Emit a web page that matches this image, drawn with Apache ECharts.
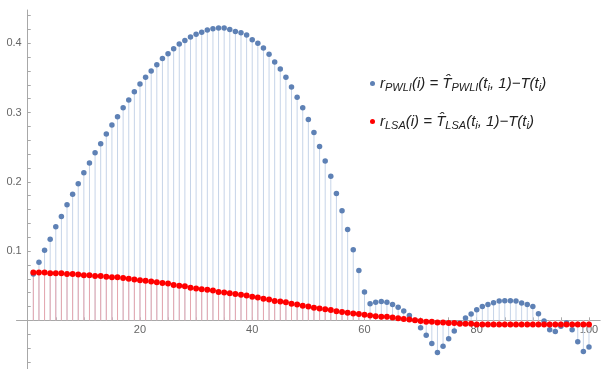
<!DOCTYPE html>
<html>
<head>
<meta charset="utf-8">
<script src="https://cdn.jsdelivr.net/npm/echarts@6/dist/echarts.min.js"></script>
<style>
  html, body { margin: 0; padding: 0; background: #fff; }
  #chart { width: 605px; height: 369px; }
</style>
</head>
<body>
<div id="chart"></div>
<script>
// residuals r(i), i = 1..100
var pwli = [
  0.067, 0.084, 0.101, 0.117, 0.135, 0.150, 0.167, 0.182, 0.197, 0.213,
  0.227, 0.242, 0.255, 0.269, 0.282, 0.294, 0.307, 0.318, 0.330, 0.341,
  0.351, 0.360, 0.369, 0.378, 0.385, 0.392, 0.399, 0.404, 0.409, 0.413,
  0.416, 0.419, 0.421, 0.422, 0.422, 0.420, 0.417, 0.415, 0.412, 0.405,
  0.400, 0.393, 0.384, 0.373, 0.363, 0.351, 0.337, 0.322, 0.307, 0.290,
  0.271, 0.251, 0.230, 0.208, 0.183, 0.158, 0.131, 0.102, 0.072, 0.041,
  0.024, 0.026, 0.027, 0.026, 0.023, 0.019, 0.0135, 0.007, 0.000, -0.0106,
  -0.0216, -0.0335, -0.0465, -0.0375, -0.0265, -0.0154, -0.004, 0.0034, 0.0092, 0.0154,
  0.020, 0.023, 0.0255, 0.028, 0.0284, 0.0284, 0.028, 0.025, 0.023, 0.020,
  0.0096, -0.001, -0.0135, -0.016, -0.0087, -0.0034, -0.0135, -0.031, -0.045, -0.0385
];
var lsa = [
  0.069, 0.069, 0.069, 0.068, 0.068, 0.068, 0.067, 0.067, 0.066, 0.065,
  0.065, 0.064, 0.064, 0.063, 0.062, 0.062, 0.061, 0.060, 0.059, 0.058,
  0.057, 0.056, 0.055, 0.054, 0.053, 0.051, 0.050, 0.049, 0.047, 0.046,
  0.045, 0.044, 0.043, 0.041, 0.040, 0.039, 0.038, 0.037, 0.036, 0.034,
  0.033, 0.031, 0.030, 0.028, 0.027, 0.026, 0.024, 0.023, 0.021, 0.020,
  0.018, 0.017, 0.016, 0.015, 0.013, 0.012, 0.011, 0.010, 0.009, 0.008,
  0.007, 0.006, 0.005, 0.005, 0.004, 0.003, 0.002, 0.001, 0.000, -0.001,
  -0.002, -0.002, -0.003, -0.003, -0.004, -0.004, -0.005, -0.005, -0.005, -0.006,
  -0.006, -0.006, -0.006, -0.006, -0.006, -0.006, -0.006, -0.006, -0.006, -0.006,
  -0.006, -0.006, -0.006, -0.006, -0.006, -0.006, -0.006, -0.006, -0.006, -0.006
];
var xLabels = [20, 40, 60, 80, 100];
var xTicks = [5, 10, 15, 20, 25, 30, 35, 40, 45, 50, 55, 60, 65, 70, 75, 80, 85, 90, 95, 100];
var yLabels = [0.1, 0.2, 0.3, 0.4];
var yTicks = [-0.06, -0.04, -0.02, 0.02, 0.04, 0.06, 0.08, 0.1, 0.12, 0.14, 0.16, 0.18, 0.2,
  0.22, 0.24, 0.26, 0.28, 0.3, 0.32, 0.34, 0.36, 0.38, 0.4, 0.42, 0.44];

var X_MIN = -2, X_MAX = 102, Y_MIN = -0.07, Y_MAX = 0.448;

function pairs(arr) {
  return arr.map(function (v, k) { return [k + 1, v]; });
}

var myChart = echarts.init(document.getElementById('chart'));

var axisGray = '#a8a8a8';
var labelStyle = { color: '#666', fontSize: 11, fontFamily: 'Liberation Sans' };

var option = {
  animation: false,
  grid: { left: 16.5, right: 4.8, top: 10, bottom: 0.2, outerBoundsMode: 'none', containLabel: false },
  xAxis: {
    type: 'value', min: X_MIN, max: X_MAX,
    axisLine: { onZero: false, lineStyle: { color: axisGray, width: 1 } },
    axisTick: { inside: true, length: 3, customValues: xTicks, lineStyle: { color: axisGray } },
    axisLabel: Object.assign({ customValues: xLabels, margin: 4 }, labelStyle),
    splitLine: { show: false }
  },
  yAxis: {
    type: 'value', min: Y_MIN, max: Y_MAX,
    axisLine: { show: true, onZero: false, lineStyle: { color: axisGray, width: 1 } },
    axisTick: { show: true, inside: true, length: 3, customValues: yTicks, lineStyle: { color: axisGray } },
    axisLabel: Object.assign({ customValues: yLabels, margin: 6 }, labelStyle),
    splitLine: { show: false }
  },
  legend: {
    orient: 'vertical',
    left: 365,
    top: 71,
    itemGap: 21,
    itemWidth: 5,
    itemHeight: 5,
    selectedMode: false,
    data: [
      { name: 'PWLI', icon: 'circle' },
      { name: 'LSA', icon: 'circle' }
    ],
    formatter: function (name) {
      return '{v|r}{s|' + name + '}{v|(i) = T\u0302}{s|' + name + '}{v|(t}{s|i}{v|, 1)\u2212T(t}{s|i}{v|)}';
    },
    textStyle: {
      rich: {
        v: { fontSize: 15, fontStyle: 'italic', fontFamily: 'Liberation Sans', color: '#222' },
        s: { fontSize: 11, fontStyle: 'italic', fontFamily: 'Liberation Sans', color: '#222', padding: [8, 0, 0, 0] }
      }
    }
  },
  series: [
    {
      name: 'PWLI stems', type: 'bar', barWidth: 1, barGap: '-100%',
      itemStyle: { color: '#c6d4e8' },
      data: pairs(pwli)
    },
    {
      name: 'LSA stems', type: 'bar', barWidth: 1, barGap: '-100%',
      itemStyle: { color: '#e6a6ae' },
      data: pairs(lsa)
    },
    {
      name: 'PWLI', type: 'scatter', symbolSize: 5.5,
      itemStyle: { color: '#5e81b5', opacity: 1 },
      data: pairs(pwli), z: 3
    },
    {
      name: 'LSA', type: 'scatter', symbolSize: 6,
      itemStyle: { color: '#ff0000', opacity: 1 },
      data: pairs(lsa), z: 4
    }
  ]
};

myChart.setOption(option);

// move both axes onto the zero lines (labels included)
var zeroY = myChart.convertToPixel({ yAxisIndex: 0 }, 0);
var bottomY = myChart.convertToPixel({ yAxisIndex: 0 }, Y_MIN);
var zeroX = myChart.convertToPixel({ xAxisIndex: 0 }, 0);
var leftX = myChart.convertToPixel({ xAxisIndex: 0 }, X_MIN);
myChart.setOption({
  xAxis: { offset: -(bottomY - zeroY) },
  yAxis: { offset: -(zeroX - leftX) }
});

window.addEventListener('resize', function () {
  myChart.resize();
});
</script>
</body>
</html>
